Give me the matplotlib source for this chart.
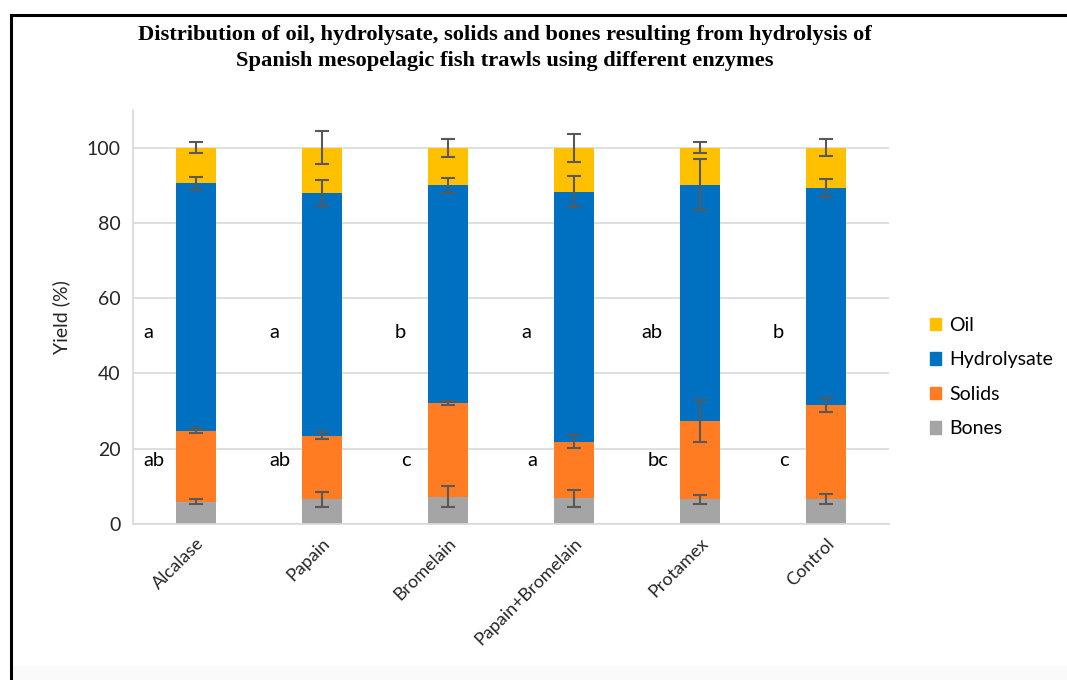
import matplotlib
matplotlib.use("Agg")
import matplotlib.pyplot as plt
import numpy as np
from matplotlib.patches import Rectangle
from matplotlib.lines import Line2D

categories = ["Alcalase", "Papain", "Bromelain", "Papain+Bromelain", "Protamex", "Control"]
bones = [5.9, 6.6, 7.3, 6.8, 6.6, 6.6]
solids = [18.9, 16.9, 24.8, 15.1, 20.7, 25.0]
hydrolysate = [65.7, 64.5, 57.9, 66.4, 62.9, 57.6]
oil = [9.5, 12.0, 10.0, 11.7, 9.8, 10.8]
bones_err = [0.7, 2.0, 2.9, 2.3, 1.2, 1.3]
solids_err = [0.6, 0.85, 0.5, 1.7, 5.6, 1.9]
hydrolysate_err = [1.7, 3.5, 2.0, 4.2, 6.7, 2.4]
oil_err = [1.4, 4.3, 2.4, 3.7, 1.4, 2.2]
letters_hydrolysate = ["a", "a", "b", "a", "ab", "b"]
letters_solids = ["ab", "ab", "c", "a", "bc", "c"]

colors = {"Oil": "#FFC000", "Hydrolysate": "#0070C0", "Solids": "#FF7C22", "Bones": "#A5A5A5"}
txt = "#262626"
W, H = 1067, 680
fig = plt.figure(figsize=(W / 100, H / 100), dpi=100)

# frame
fig.add_artist(Line2D([11 / W, 11 / W], [0, 1 - 15 / H], color="black", lw=2.2, transform=fig.transFigure))
fig.add_artist(Line2D([11 / W, 1.0], [1 - 15 / H, 1 - 15 / H], color="black", lw=2.2, transform=fig.transFigure))
fig.add_artist(Rectangle((12 / W, 0), 1, 14 / H, facecolor="#FAFAFA", edgecolor="none", transform=fig.transFigure))

ax = fig.add_axes([133 / W, 1 - 524 / H, (889 - 133) / W, (524 - 110) / H])
x = np.arange(len(categories))
wd = 0.32
b = np.array(bones)
s = np.array(solids)
h = np.array(hydrolysate)
o = np.array(oil)
ax.bar(x, b, wd, color=colors["Bones"], zorder=2)
ax.bar(x, s, wd, bottom=b, color=colors["Solids"], zorder=2)
ax.bar(x, h, wd, bottom=b + s, color=colors["Hydrolysate"], zorder=2)
ax.bar(x, o, wd, bottom=b + s + h, color=colors["Oil"], zorder=2)
ek = dict(fmt="none", ecolor="#595959", elinewidth=1.5, capsize=5, capthick=1.5, zorder=3)
ax.errorbar(x, b, yerr=bones_err, **ek)
ax.errorbar(x, b + s, yerr=solids_err, **ek)
ax.errorbar(x, b + s + h, yerr=hydrolysate_err, **ek)
ax.errorbar(x, b + s + h + o, yerr=oil_err, **ek)

for i in range(len(categories)):
    ax.text(x[i] - 0.38, 51, letters_hydrolysate[i], ha="center", va="center", fontsize=14.5, family="Lato", color="black")
    ax.text(x[i] - 0.33, 17, letters_solids[i], ha="center", va="center", fontsize=14.5, family="Lato", color="black")

ax.set_xlim(-0.5, len(categories) - 0.5)
ax.set_ylim(0, 110)
ax.set_yticks([0, 20, 40, 60, 80, 100])
ax.grid(axis="y", color="#D9D9D9", lw=1.2, zorder=0)
ax.set_axisbelow(True)
for sp in ["top", "right"]:
    ax.spines[sp].set_visible(False)
ax.spines["left"].set_color("#D9D9D9")
ax.spines["bottom"].set_color("#D9D9D9")
ax.spines["left"].set_linewidth(1.2)
ax.spines["bottom"].set_linewidth(1.2)
ax.tick_params(length=0, labelsize=14, colors=txt)
ax.set_xticks(x)
ax.set_xticklabels(categories, rotation=45, ha="right", rotation_mode="anchor", family="Lato", fontsize=13, color=txt)
for lab in ax.get_yticklabels():
    lab.set_family("Lato")
    lab.set_color(txt)
ax.tick_params(axis="y", pad=9)
ax.tick_params(axis="x", pad=8)
ax.set_ylabel("Yield (%)", family="Lato", fontsize=14, color=txt, labelpad=12)

handles = [Rectangle((0, 0), 1, 1, color=colors[k]) for k in ["Oil", "Hydrolysate", "Solids", "Bones"]]
fig.legend(handles, ["Oil", "Hydrolysate", "Solids", "Bones"], loc="center left",
           bbox_to_anchor=(920 / W, 1 - 377 / H), frameon=False, prop={"family": "Lato", "size": 14},
           handlelength=0.6, handleheight=0.6, handletextpad=0.4, labelspacing=0.9, borderpad=0)

fig.text(505 / W, 1 - 35 / H, "Distribution of oil, hydrolysate, solids and bones resulting from hydrolysis of",
         ha="center", va="center", family="Liberation Serif", fontweight="bold", fontsize=16.2)
fig.text(505 / W, 1 - 61 / H, "Spanish mesopelagic fish trawls using different enzymes",
         ha="center", va="center", family="Liberation Serif", fontweight="bold", fontsize=16.2)

fig.savefig("out.png", dpi=100)
